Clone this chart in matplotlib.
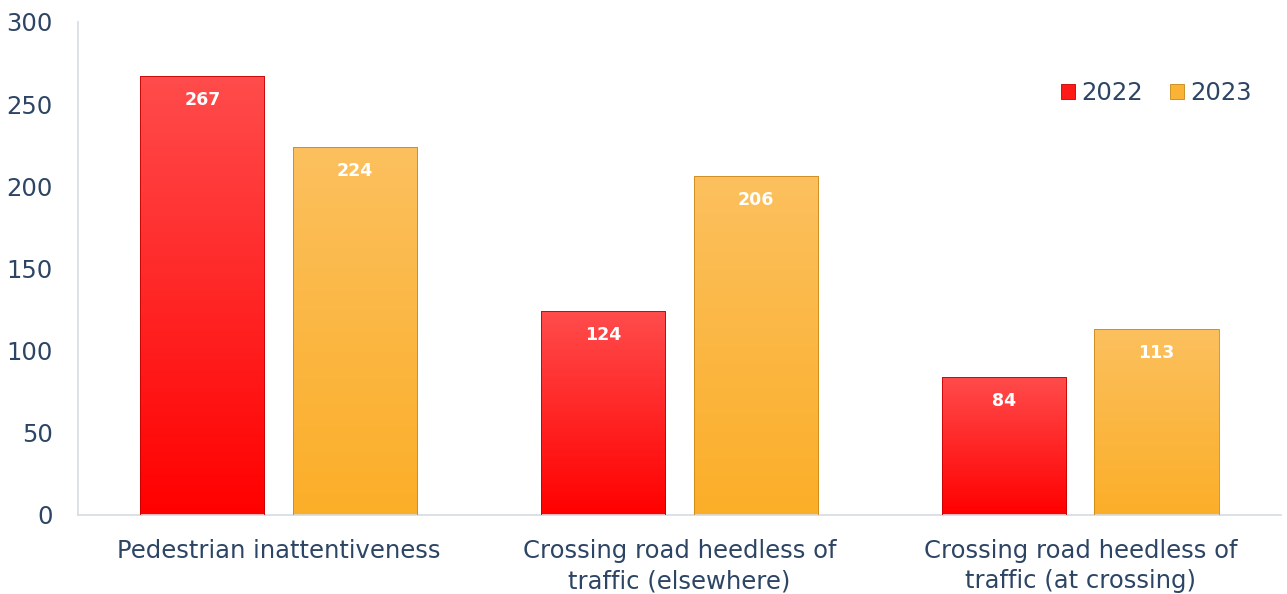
import numpy as np
import matplotlib.pyplot as plt
from matplotlib.colors import LinearSegmentedColormap
from matplotlib.patches import Patch

categories = ["Pedestrian inattentiveness",
              "Crossing road heedless of\ntraffic (elsewhere)",
              "Crossing road heedless of\ntraffic (at crossing)"]
years = ["2022", "2023"]
values_2022 = [267, 124, 84]
values_2023 = [224, 206, 113]

text_color = "#2d4565"
font = "DejaVu Sans"

fig = plt.figure(figsize=(12.87, 5.94), dpi=100)
ax = fig.add_axes([0.0606, 0.133, 0.9347, 0.830])

x = np.arange(len(categories))
width = 0.31
offset = 0.19

series = [
    (values_2022, -offset, ("#ff0000", "#ff4c4c"), "#c00000", "#ff1a1a"),
    (values_2023, offset, ("#fbae28", "#fcc05e"), "#c8871a", "#fbb335"),
]

grad = np.linspace(0, 1, 256).reshape(-1, 1)
for vals, off, (c_bot, c_top), edge, legend_col in series:
    cmap = LinearSegmentedColormap.from_list("g", [c_bot, c_top])
    bars = ax.bar(x + off, vals, width, color="none", edgecolor=edge, linewidth=0.6, zorder=3)
    for b, v in zip(bars, vals):
        x0, y0 = b.get_x(), b.get_y()
        im = ax.imshow(grad, cmap=cmap, origin="lower", aspect="auto",
                       extent=[x0, x0 + b.get_width(), y0, y0 + b.get_height()], zorder=2)
        im.set_clip_path(b)
        ax.text(b.get_x() + b.get_width() / 2, v - 14.5, str(v), ha="center", va="center",
                color="white", fontsize=12.5, fontweight="bold", family=font, zorder=4)

ax.set_xlim(-0.5, 2.5)
ax.set_ylim(0, 300)
ax.set_yticks(range(0, 301, 50))
ax.set_xticks(x)
ax.set_xticklabels(categories, fontsize=17.5, color=text_color, family=font, linespacing=1.35)
ax.tick_params(axis="x", length=0, labelsize=17.5, labelcolor=text_color, pad=17)
ax.tick_params(axis="y", length=0, labelsize=17.5, labelcolor=text_color, pad=18)
for lbl in ax.get_yticklabels():
    lbl.set_family(font)

for s in ["top", "right"]:
    ax.spines[s].set_visible(False)
for s in ["left", "bottom"]:
    ax.spines[s].set_color("#d5dbe3")
    ax.spines[s].set_linewidth(1.2)

handles = [Patch(facecolor="#ff1a1a", edgecolor="#c00000", linewidth=0.6),
           Patch(facecolor="#fbb335", edgecolor="#c8871a", linewidth=0.6)]
leg = ax.legend(handles, years, loc="upper right", bbox_to_anchor=(0.994, 0.925), ncol=2,
                frameon=False, handlelength=0.6, handleheight=0.6, handletextpad=0.25,
                columnspacing=1.1, prop={"family": font, "size": 17.5})
for t in leg.get_texts():
    t.set_color(text_color)

fig.savefig("out.png", dpi=100, facecolor="white")
